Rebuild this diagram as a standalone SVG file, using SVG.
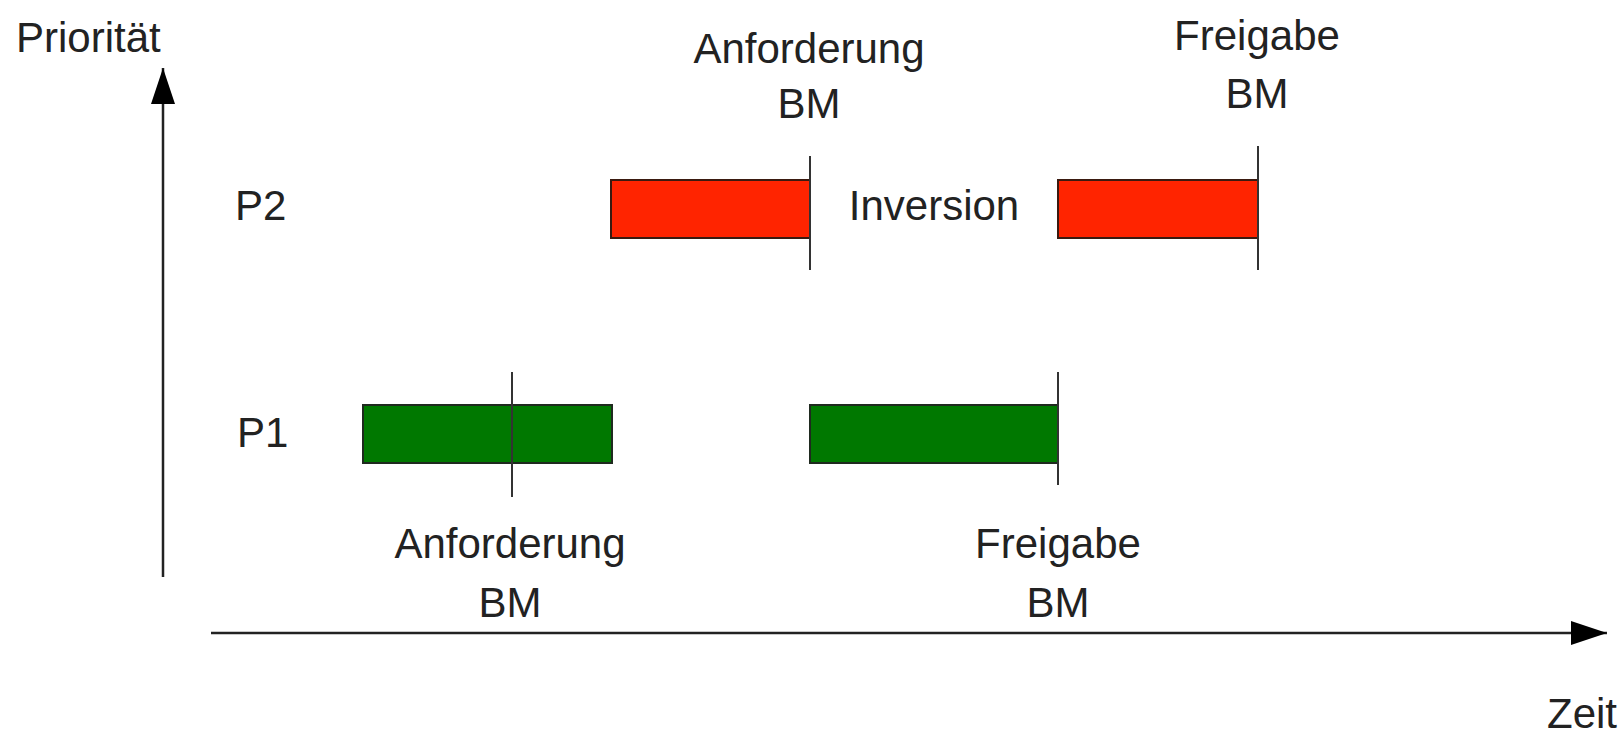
<svg xmlns="http://www.w3.org/2000/svg" width="1623" height="735" viewBox="0 0 1623 735">
<style>
  text { font-family: "Liberation Sans", Arial, sans-serif; font-size: 42px; fill: #222; }
  .mid { text-anchor: middle; }
  .axis { stroke: #222; stroke-width: 2.5; fill: none; }
  .tick { stroke: #333; stroke-width: 2; }
  .red { fill: #ff2400; stroke: #3a1a10; stroke-width: 2; }
  .green { fill: #007800; stroke: #1f2a1f; stroke-width: 2; }
</style>
<defs>
  <marker id="arrow" viewBox="0 0 36 24" refX="36" refY="12" markerWidth="36" markerHeight="24" markerUnits="userSpaceOnUse" orient="auto">
    <path d="M0,0 L36,12 L0,24 Z" fill="#000"/>
  </marker>
</defs>
<rect width="1623" height="735" fill="#fff"/>
<g id="connectors">
  <line class="axis" x1="163" y1="577" x2="163" y2="68" marker-end="url(#arrow)"/>
  <line class="axis" x1="211" y1="633" x2="1607" y2="633" marker-end="url(#arrow)"/>
</g>
<g id="axis-labels">
  <text id="label-prioritaet" x="16" y="52">Priorität</text>
  <text id="label-zeit" x="1547" y="728">Zeit</text>
  <text id="label-p2" x="235" y="220">P2</text>
  <text id="label-p1" x="237" y="447">P1</text>
</g>
<g id="p2-bar1">
  <rect class="red" x="611" y="180" width="199" height="58"/>
</g>
<g id="p2-bar2">
  <rect class="red" x="1058" y="180" width="200" height="58"/>
</g>
<g id="p1-bar1">
  <rect class="green" x="363" y="405" width="249" height="58"/>
</g>
<g id="p1-bar2">
  <rect class="green" x="810" y="405" width="248" height="58"/>
</g>
<g id="marker-anforderung-p2">
  <line class="tick" x1="810" y1="156" x2="810" y2="270"/>
  <text class="mid" x="809" y="63">Anforderung</text>
  <text class="mid" x="809" y="118">BM</text>
</g>
<g id="marker-freigabe-p2">
  <line class="tick" x1="1258" y1="146" x2="1258" y2="270"/>
  <text class="mid" x="1257" y="50">Freigabe</text>
  <text class="mid" x="1257" y="108">BM</text>
</g>
<g id="marker-anforderung-p1">
  <line class="tick" x1="512" y1="372" x2="512" y2="497"/>
  <text class="mid" x="510" y="558">Anforderung</text>
  <text class="mid" x="510" y="617">BM</text>
</g>
<g id="marker-freigabe-p1">
  <line class="tick" x1="1058" y1="372" x2="1058" y2="485"/>
  <text class="mid" x="1058" y="558">Freigabe</text>
  <text class="mid" x="1058" y="617">BM</text>
</g>
<g id="label-inversion">
  <text class="mid" x="934" y="220">Inversion</text>
</g>
</svg>
